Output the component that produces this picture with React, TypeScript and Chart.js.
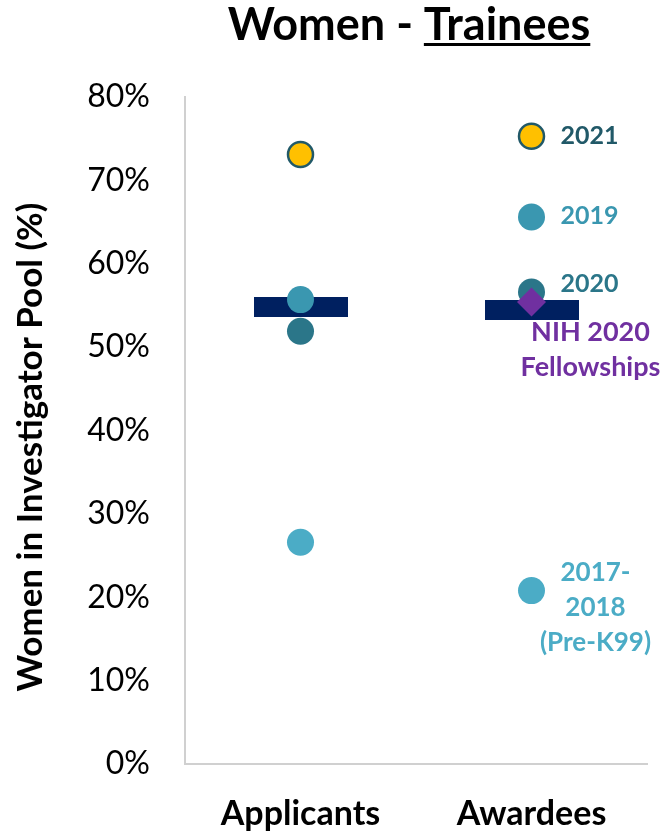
import React, { useEffect, useRef } from "react";
import { Chart, registerables } from "chart.js";

Chart.register(...registerables);

const categories = ["Applicants", "Awardees"];
const yTicks = [0, 10, 20, 30, 40, 50, 60, 70, 80];

const series2021 = [73.1, 75.3];
const series2019 = [55.7, 65.6];
const series2020 = [51.9, 56.6];
const series2017_2018 = [26.6, 20.8];
const seriesNih2020 = [null, 55.4];
const medians = [54.8, 54.4];

const label2021 = ["2021"];
const label2019 = ["2019"];
const label2020 = ["2020"];
const labelNih = ["NIH 2020", "Fellowships"];
const label2017 = ["2017-", "2018", "(Pre-K99)"];

const titleLeft = "Women - ";
const titleRight = "Trainees";
const yTitle = "Women in Investigator Pool (%)";

const FONT = "Lato, 'Open Sans', sans-serif";

function makeBarImage() {
  const c = document.createElement("canvas");
  c.width = 94;
  c.height = 20;
  const g = c.getContext("2d")!;
  g.fillStyle = "#002060";
  g.fillRect(0, 0, 94, 20);
  return c;
}

const labelStyles: Record<string, { dx: number; dy: number; align: CanvasTextAlign; color: string; lh: number; size: number }> = {
  "2021": { dx: 29, dy: 0, align: "left", color: "#215968", lh: 35, size: 25 },
  "2019": { dx: 29, dy: -1, align: "left", color: "#3A97B0", lh: 35, size: 25 },
  "2020": { dx: 29, dy: -8, align: "left", color: "#2B7689", lh: 35, size: 25 },
  "NIH 2020 Fellowships": { dx: 59, dy: 30, align: "center", color: "#7030A0", lh: 35, size: 27 },
  "2017-2018 (Pre-K99)": { dx: 64, dy: -18, align: "center", color: "#4BACC6", lh: 35, size: 26 },
};

const pointLabelPlugin = {
  id: "pointLabels",
  afterDatasetsDraw(chart: any) {
    const ctx = chart.ctx;
    chart.data.datasets.forEach((ds: any, i: number) => {
      if (!ds.pointLabel) return;
      const meta = chart.getDatasetMeta(i);
      const el = meta.data[1];
      if (!el) return;
      const st = labelStyles[ds.label];
      ctx.save();
      ctx.font = `bold ${st.size}px ${FONT}`;
      ctx.fillStyle = st.color;
      ctx.textAlign = st.align;
      ctx.textBaseline = "middle";
      (ds.pointLabel as string[]).forEach((line, k) => {
        ctx.fillText(line, el.x + st.dx, el.y + st.dy + k * st.lh);
      });
      ctx.restore();
    });
  },
};

const titlePlugin = {
  id: "customTitle",
  afterDraw(chart: any) {
    const ctx = chart.ctx;
    ctx.save();
    ctx.font = `bold 45px ${FONT}`;
    ctx.fillStyle = "#000";
    ctx.textBaseline = "alphabetic";
    ctx.textAlign = "left";
    const w1 = ctx.measureText(titleLeft).width;
    const w2 = ctx.measureText(titleRight).width;
    const cx = 409;
    const x0 = cx - (w1 + w2) / 2;
    const base = 40;
    ctx.fillText(titleLeft, x0, base);
    ctx.fillText(titleRight, x0 + w1, base);
    ctx.fillRect(x0 + w1, base + 3, w2, 3);

    // y-axis title
    ctx.translate(31, 447);
    ctx.rotate(-Math.PI / 2);
    ctx.font = `bold 35px ${FONT}`;
    ctx.textAlign = "center";
    ctx.textBaseline = "middle";
    ctx.fillText(yTitle, 0, 0);
    ctx.restore();
  },
};

export default function App() {
  const ref = useRef<HTMLCanvasElement>(null);
  useEffect(() => {
    const barImg = makeBarImage();
    const chart = new Chart(ref.current!, {
      type: "line",
      data: {
        labels: categories,
        datasets: [
          {
            label: "NIH 2020 Fellowships",
            data: seriesNih2020,
            pointStyle: "rectRot",
            pointRadius: 14.5,
            pointBackgroundColor: "#7030A0",
            pointBorderWidth: 0,
            showLine: false,
            order: 0,
            pointLabel: labelNih,
          } as any,
          {
            label: "2021",
            data: series2021,
            pointStyle: "circle",
            pointRadius: 12.5,
            pointBackgroundColor: "#FFC000",
            pointBorderColor: "#215968",
            pointBorderWidth: 2.5,
            showLine: false,
            order: 1,
            pointLabel: label2021,
          } as any,
          {
            label: "2019",
            data: series2019,
            pointStyle: "circle",
            pointRadius: 13.5,
            pointBackgroundColor: "#3A97B0",
            pointBorderWidth: 0,
            showLine: false,
            order: 1,
            pointLabel: label2019,
          } as any,
          {
            label: "2017-2018 (Pre-K99)",
            data: series2017_2018,
            pointStyle: "circle",
            pointRadius: 13.5,
            pointBackgroundColor: "#4BACC6",
            pointBorderWidth: 0,
            showLine: false,
            order: 1,
            pointLabel: label2017,
          } as any,
          {
            label: "Median",
            data: medians,
            pointStyle: barImg,
            pointRadius: 10,
            showLine: false,
            order: 5,
          } as any,
          {
            label: "2020",
            data: series2020,
            pointStyle: "circle",
            pointRadius: 13.5,
            pointBackgroundColor: "#2B7689",
            pointBorderWidth: 0,
            showLine: false,
            order: 6,
            pointLabel: label2020,
          } as any,
        ],
      },
      options: {
        animation: false,
        responsive: false,
        maintainAspectRatio: false,
        events: [],
        layout: { padding: { top: 97, right: 17, left: 0, bottom: 0 } },
        plugins: {
          legend: { display: false },
          tooltip: { enabled: false },
          title: { display: false },
        },
        scales: {
          x: {
            type: "category",
            offset: true,
            grid: { display: false },
            border: { display: true, color: "#D0D0D0", width: 2 },
            ticks: {
              padding: 22,
              color: "#000",
              font: { family: FONT, size: 34, weight: "bold" },
            },
            afterFit: (s: any) => {
              s.height = 69;
            },
          },
          y: {
            min: 0,
            max: 80,
            afterBuildTicks: (s: any) => {
              s.ticks = yTicks.map((v) => ({ value: v }));
            },
            grid: { display: false },
            border: { display: true, color: "#D0D0D0", width: 2 },
            ticks: {
              padding: 27,
              color: "#000",
              font: { family: FONT, size: 32 },
              callback: (v: any) => `${v}%`,
            },
            title: { display: false },
            afterFit: (s: any) => {
              s.width = 185;
            },
          },
        },
      },
      plugins: [pointLabelPlugin, titlePlugin],
    });
    return () => chart.destroy();
  }, []);
  return (
    <div style={{ position: "absolute", left: 0, top: 0, width: 664, height: 833, background: "#fff" }}>
      <canvas ref={ref} width={664} height={833} style={{ display: "block" }} />
    </div>
  );
}
